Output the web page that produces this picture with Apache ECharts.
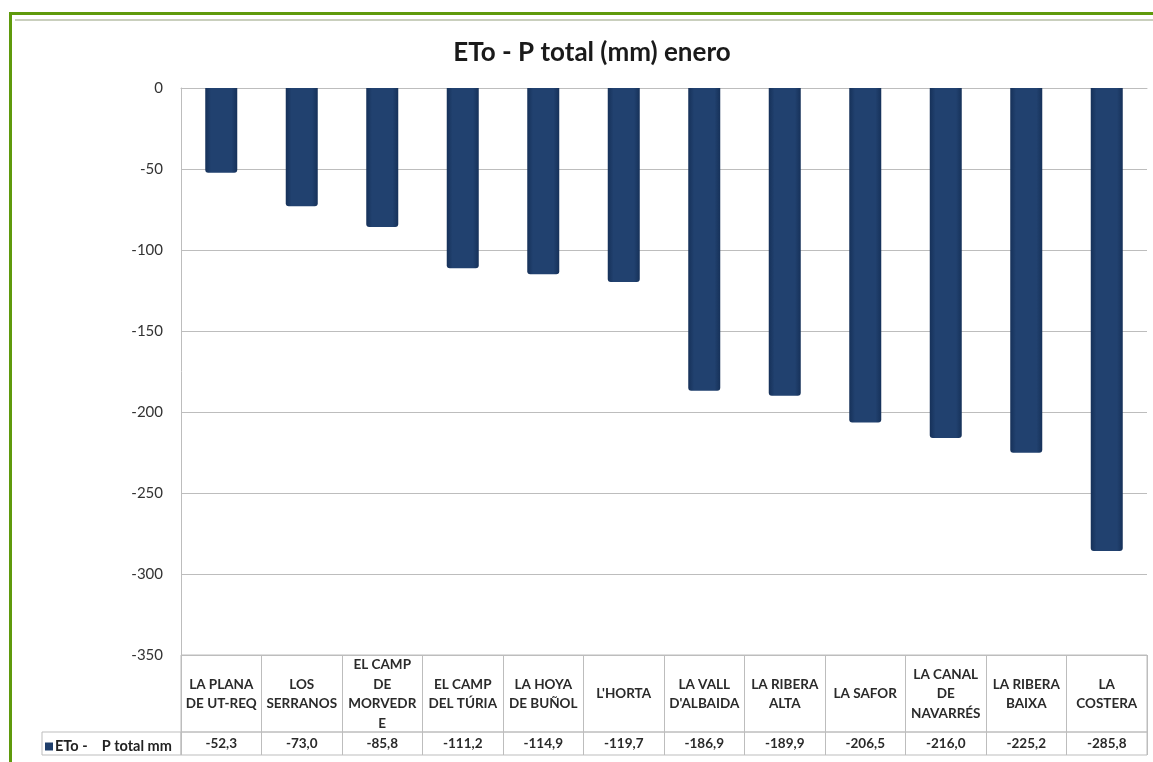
<!DOCTYPE html>
<html>
<head>
<meta charset="utf-8">
<script src="https://cdn.jsdelivr.net/npm/echarts@6/dist/echarts.min.js"></script>
<style>
  html, body { margin: 0; padding: 0; background: #fff; }
  #chart { width: 1153px; height: 762px; }
</style>
</head>
<body>
<div id="chart"></div>
<script>
// datos
const categories = [
  'LA PLANA\nDE UT-REQ', 'LOS\nSERRANOS', 'EL CAMP\nDE\nMORVEDR\nE', 'EL CAMP\nDEL TÚRIA',
  'LA HOYA\nDE BUÑOL', "L'HORTA", "LA VALL\nD'ALBAIDA", 'LA RIBERA\nALTA',
  'LA SAFOR', 'LA CANAL\nDE\nNAVARRÉS', 'LA RIBERA\nBAIXA', 'LA\nCOSTERA'
];
const values = [-52.3, -73.0, -85.8, -111.2, -114.9, -119.7, -186.9, -189.9, -206.5, -216.0, -225.2, -285.8];
const seriesName = 'ETo -    P total mm';
const yTicks = [0, -50, -100, -150, -200, -250, -300, -350];

const FONT = 'Lato, "Liberation Sans", sans-serif';
const LINE = '#bdbdbd';
const BAR = '#1f3e6b';

const fmt = v => v.toFixed(1).replace('.', ',');

const chart = echarts.init(document.getElementById('chart'));

const option = {
  animation: false,
  title: {
    text: 'ETo - P total (mm) enero',
    left: 587,
    top: 35,
    textAlign: 'center',
    textStyle: { fontFamily: FONT, fontSize: 26, fontWeight: 'bold', color: '#1a1a1a' }
  },
  legend: {
    left: 40,
    top: 734,
    itemWidth: 8,
    itemHeight: 8,
    itemGap: 4,
    icon: 'rect',
    itemStyle: { color: BAR },
    textStyle: { fontFamily: FONT, fontSize: 14.5, fontWeight: 'bold', color: '#222', padding: [0, 0, 0, -3] },
    data: [seriesName]
  },
  grid: [
    // zona de barras
    { left: 181, top: 88, width: 966, height: 567 },
    // fila de nombres
    { left: 181, top: 655, width: 966, height: 77, show: true, borderColor: LINE, borderWidth: 1 },
    // fila de valores
    { left: 181, top: 732, width: 966, height: 23, show: true, borderColor: LINE, borderWidth: 1 },
    // celda de leyenda
    { left: 42, top: 732, width: 139, height: 23, show: true, borderColor: LINE, borderWidth: 1 }
  ],
  xAxis: [
    {
      gridIndex: 0,
      type: 'category',
      data: categories,
      axisLine: { onZero: true, lineStyle: { color: LINE, width: 1 } },
      axisTick: { show: false },
      axisLabel: { show: false }
    },
    {
      gridIndex: 1,
      type: 'category',
      data: categories,
      position: 'bottom',
      axisLine: { show: false },
      axisTick: { show: false },
      splitLine: { show: true, interval: 0, lineStyle: { color: LINE } },
      axisLabel: {
        interval: 0,
        margin: -38,
        verticalAlign: 'middle',
        lineHeight: 19.5,
        fontFamily: FONT, fontSize: 13.5, fontWeight: 'bold', color: '#2a2a2a'
      }
    },
    {
      gridIndex: 2,
      type: 'category',
      data: categories,
      position: 'bottom',
      axisLine: { show: false },
      axisTick: { show: false },
      splitLine: { show: true, interval: 0, lineStyle: { color: LINE } },
      axisLabel: {
        interval: 0,
        margin: -11,
        verticalAlign: 'middle',
        formatter: (v, i) => fmt(values[i]),
        fontFamily: FONT, fontSize: 13.5, fontWeight: 'bold', color: '#2a2a2a'
      }
    },
    { gridIndex: 3, type: 'value', show: false }
  ],
  yAxis: [
    {
      gridIndex: 0,
      type: 'value',
      min: -350,
      max: 0,
      interval: 50,
      axisLine: { show: true, lineStyle: { color: LINE } },
      axisTick: { show: false },
      axisLabel: {
        margin: 18,
        fontFamily: FONT, fontSize: 15, color: '#333',
        formatter: v => (yTicks.includes(v) ? String(v) : '')
      },
      splitLine: { show: true, lineStyle: { color: LINE } }
    },
    { gridIndex: 1, type: 'value', show: false },
    { gridIndex: 2, type: 'value', show: false },
    { gridIndex: 3, type: 'value', show: false }
  ],
  series: [
    {
      name: seriesName,
      type: 'bar',
      xAxisIndex: 0,
      yAxisIndex: 0,
      barWidth: 32,
      data: values,
      itemStyle: {
        color: new echarts.graphic.LinearGradient(0, 0, 1, 0, [
          { offset: 0, color: '#163159' },
          { offset: 0.18, color: '#21416f' },
          { offset: 0.82, color: '#21416f' },
          { offset: 1, color: '#163159' }
        ]),
        borderRadius: [0, 0, 3, 3]
      }
    }
  ],
  graphic: [
    // marco verde
    { type: 'rect', left: 9, top: 12, shape: { width: 1144, height: 3 }, style: { fill: '#5f9a0c' }, silent: true },
    { type: 'rect', left: 9, top: 12, shape: { width: 3, height: 750 }, style: { fill: '#5f9a0c' }, silent: true },
    { type: 'rect', left: 15, top: 19, shape: { width: 1138, height: 2 }, style: { fill: '#c9cfbd' }, silent: true }
  ]
};

chart.setOption(option);
window.addEventListener('resize', () => chart.resize());
</script>
</body>
</html>
